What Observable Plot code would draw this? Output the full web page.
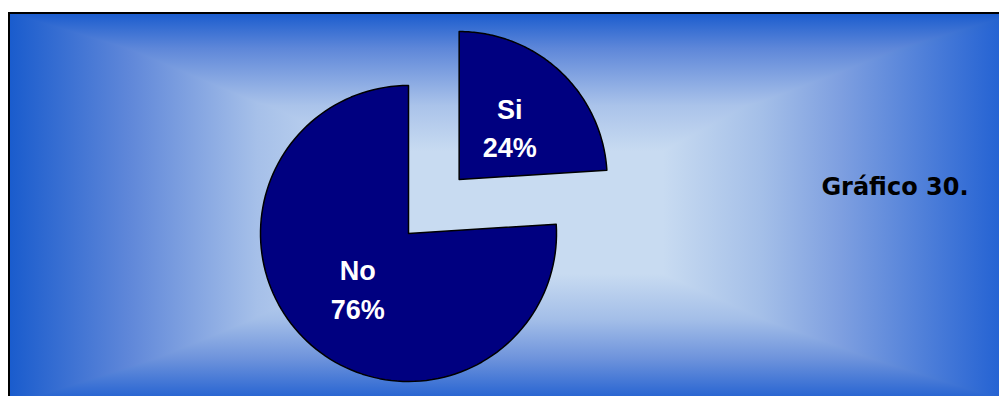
<!DOCTYPE html>
<html>
<head>
<meta charset="utf-8">
<script src="https://cdn.jsdelivr.net/npm/d3@7"></script>
<script src="https://cdn.jsdelivr.net/npm/@observablehq/plot@0.6"></script>
<style>
  html, body { margin: 0; padding: 0; background: #fff; }
  #wrap { position: relative; width: 999px; height: 396px; overflow: hidden; }
  #bg {
    position: absolute; left: 8px; top: 12px; right: 0; bottom: 0;
    border-top: 2px solid #000; border-left: 2px solid #000;
    background:
      linear-gradient(to right, #1a5ccd 0%, #5f87d9 12%, #a6c0e9 25%, #c8dbf1 36%, #c8dbf1 66%, #a4bfe8 76%, #7e9fe0 84%, #2563d3 100%),
      linear-gradient(to bottom, #1c5dce 0%, #5e87d9 9%, #aac3ea 24%, #c8dbf1 36%, #c8dbf1 68%, #a3bee8 80%, #6f94dc 90%, #2a66d2 100%);
    background-blend-mode: darken;
  }
  #chart { position: absolute; left: 0; top: 0; }
</style>
</head>
<body>
<div id="wrap"><div id="bg"></div><div id="chart"></div></div>
<script>
// Data
const categories = ["Si", "No"];
const values = [24, 76];
const percentLabels = ["24%", "76%"];
const title = "Gráfico 30.";

// Styling / layout parameters
const explode = [0.5, 0];      // offset of each slice, in radii
const labelRadius = 0.5;
const steps = 120;

const arcs = d3.pie().sort(null).value(d => d)(values);

const slicePoints = [];
const labelData = [];
arcs.forEach((a, i) => {
  const mid = (a.startAngle + a.endAngle) / 2;
  const ox = explode[i] * Math.sin(mid);
  const oy = explode[i] * Math.cos(mid);
  const cat = categories[i];
  slicePoints.push({cat, x: ox, y: oy});
  for (let k = 0; k <= steps; k++) {
    const t = a.startAngle + (a.endAngle - a.startAngle) * k / steps;
    slicePoints.push({cat, x: ox + Math.sin(t), y: oy + Math.cos(t)});
  }
  slicePoints.push({cat, x: ox, y: oy});
  labelData.push({
    x: ox + labelRadius * Math.sin(mid),
    y: oy + labelRadius * Math.cos(mid),
    text: cat + "\n" + percentLabels[i]
  });
});

// pixel frame: pie center at (408,233), radius 148
const R = 148, CX = 408, CY = 233, W = 999, H = 396;

const chart = Plot.plot({
  width: W,
  height: H,
  margin: 0,
  style: {background: "transparent", overflow: "visible"},
  x: {domain: [-CX / R, (W - CX) / R], axis: null},
  y: {domain: [(CY - H) / R, CY / R], axis: null},
  marks: [
    Plot.line(slicePoints, {x: "x", y: "y", z: "cat", fill: "#000080", stroke: "#000", strokeWidth: 1.5, curve: "linear"}),
    Plot.text(labelData, {x: "x", y: "y", text: "text", fill: "#fff", fontSize: 27, fontWeight: "bold",
      fontFamily: "Liberation Sans, Arial, sans-serif", lineHeight: 1.44}),
    Plot.text([title], {text: d => d, frameAnchor: "right", dx: -31, dy: -11, fill: "#000",
      fontSize: 24, fontWeight: "bold", fontFamily: "DejaVu Sans, sans-serif"})
  ]
});
document.getElementById("chart").appendChild(chart);
</script>
</body>
</html>
